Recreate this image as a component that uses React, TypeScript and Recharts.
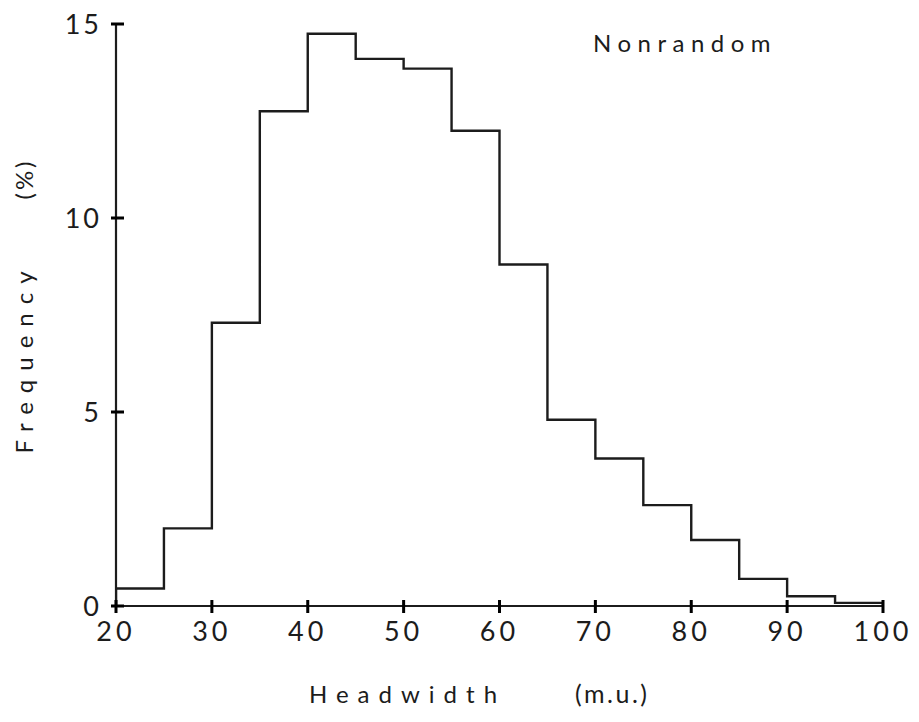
import { LineChart, Line, XAxis, YAxis, Label } from "recharts";

// headwidth bins (m.u.), 5 wide, and frequency (%) of each bin
const binStarts = [20, 25, 30, 35, 40, 45, 50, 55, 60, 65, 70, 75, 80, 85, 90, 95];
const frequency = [0.45, 2.0, 7.3, 12.75, 14.75, 14.1, 13.85, 12.25, 8.8, 4.8, 3.8, 2.6, 1.7, 0.7, 0.25, 0.08];
const xTicks = [20, 30, 40, 50, 60, 70, 80, 90, 100];
const yTicks = [0, 5, 10, 15];

const INK = "#1c1c1c";
const TICK_INK = "#000";
const FONT = "Lato, 'DejaVu Sans', sans-serif";

const W = 903;
const H = 706;
const MARGIN = { top: 16, right: 28, bottom: 8, left: 8 };
const X_AXIS_H = 100;
const Y_AXIS_W = 100;
// where the two axis lines sit
const AXIS_Y = H - MARGIN.bottom - X_AXIS_H;
const AXIS_X = MARGIN.left + Y_AXIS_W;

// outline of the histogram: start at 0, one step per bin, back to 0 at the end
const points = [
  { x: binStarts[0], y: 0 },
  ...binStarts.map((s, i) => ({ x: s, y: frequency[i] })),
  { x: 100, y: frequency[frequency.length - 1] },
  { x: 100, y: 0 },
];

// tick marks cross the axis, so they are drawn here instead of by tickLine
const XTick = (props: any) => {
  const { x, payload } = props;
  return (
    <g>
      <rect x={x - 1.5} y={AXIS_Y - 6} width={3} height={13} fill={TICK_INK} />
      <text x={x} y={AXIS_Y + 16} dy="0.71em" textAnchor="middle" fill={INK}
        fontSize={27} letterSpacing={4} fontFamily={FONT}>
        {payload.value}
      </text>
    </g>
  );
};

const YTick = (props: any) => {
  const { y, payload } = props;
  return (
    <g>
      <rect x={AXIS_X - 5} y={y - 1.5} width={13} height={3} fill={TICK_INK} />
      <text x={AXIS_X - 14} y={y} dy="0.36em" textAnchor="end" fill={INK}
        fontSize={27} letterSpacing={3} fontFamily={FONT}>
        {payload.value}
      </text>
    </g>
  );
};

const XLabel = () => (
  <g fill={INK} fontFamily={FONT} fontSize={24}>
    <text x={301} y={695} letterSpacing={9}>Headwidth</text>
    <text x={567} y={695} fontSize={25} letterSpacing={2.5}>(m.u.)</text>
    <text x={585} y={44} letterSpacing={6.5}>Nonrandom</text>
  </g>
);

const YLabel = () => (
  <g fill={INK} fontFamily={FONT} fontSize={24}>
    <text transform="translate(25,350) rotate(-90)" textAnchor="middle" letterSpacing={9}>
      Frequency
    </text>
    <text transform="translate(25,171) rotate(-90)" textAnchor="middle" letterSpacing={3}>
      (%)
    </text>
  </g>
);

export default function App() {
  return (
    <div style={{ background: "#fff", width: W, height: H }}>
      <LineChart width={W} height={H} data={points} margin={MARGIN}>
        <XAxis dataKey="x" type="number" domain={[20, 100]} ticks={xTicks}
          allowDataOverflow height={X_AXIS_H} tickSize={0} tickMargin={14}
          tick={<XTick />} axisLine={{ stroke: INK, strokeWidth: 2.2 }} tickLine={false}>
          <Label content={<XLabel />} />
        </XAxis>
        <YAxis type="number" domain={[0, 15]} ticks={yTicks} width={Y_AXIS_W}
          tickSize={0} tickMargin={14} tick={<YTick />}
          axisLine={{ stroke: INK, strokeWidth: 2.2 }} tickLine={false}>
          <Label content={<YLabel />} />
        </YAxis>
        <Line type="stepAfter" dataKey="y" stroke={INK} strokeWidth={2.4}
          dot={false} isAnimationActive={false} />
      </LineChart>
    </div>
  );
}
